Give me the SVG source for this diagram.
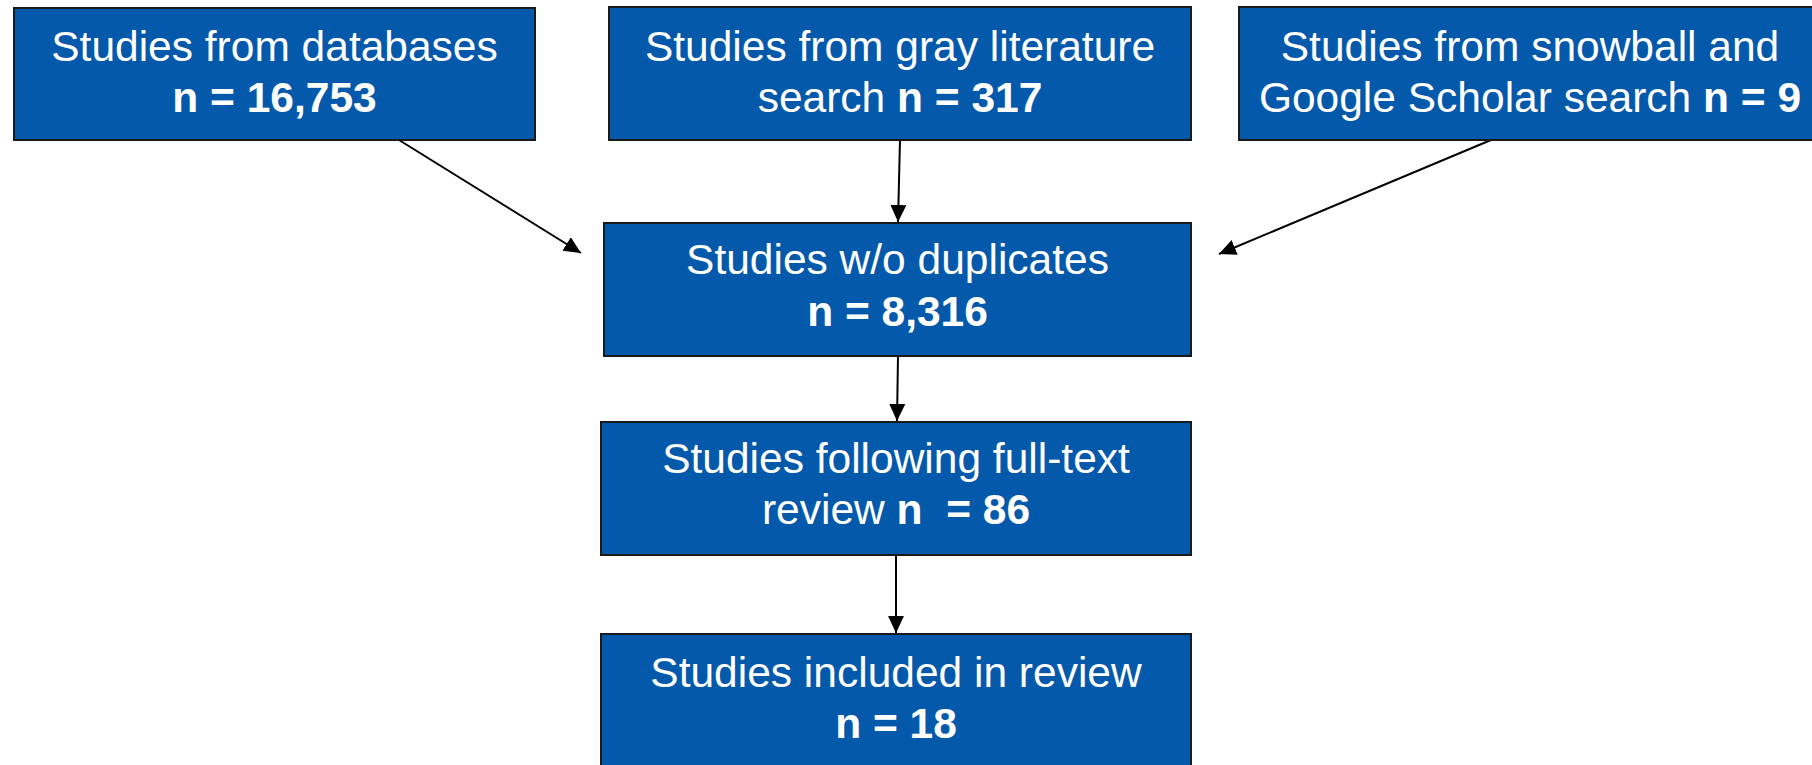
<svg xmlns="http://www.w3.org/2000/svg" width="1812" height="765" viewBox="0 0 1812 765">
<style>
.box{fill:#0559AB;stroke:#1a1a1a;stroke-width:2}
.t{font-family:"Liberation Sans",Arial,sans-serif;font-size:42.5px;fill:#ffffff;text-anchor:middle;white-space:pre}
.b{font-weight:bold}
.c{stroke:#000000;stroke-width:2;fill:none;marker-end:url(#ah)}
</style>
<defs>
<marker id="ah" markerUnits="userSpaceOnUse" markerWidth="18" markerHeight="18" viewBox="0 0 18 18" refX="17" refY="8" orient="auto">
<path d="M0,0 L17,8 L0,16 z" fill="#000000"/>
</marker>
</defs>
<rect width="1812" height="765" fill="#ffffff"/>
<g id="connectors">
<line class="c" x1="399" y1="140" x2="581" y2="253"/>
<line class="c" x1="900" y1="140" x2="898" y2="222"/>
<line class="c" x1="1491" y1="140" x2="1219" y2="254"/>
<line class="c" x1="898" y1="356" x2="897" y2="421"/>
<line class="c" x1="896" y1="555" x2="896" y2="633"/>
</g>
<g id="databases">
<rect class="box" x="14" y="8" width="521" height="132"/>
<text class="t" x="274.5" y="61">Studies from databases</text>
<text class="t b" x="274.5" y="112">n = 16,753</text>
</g>
<g id="gray">
<rect class="box" x="609" y="7" width="582" height="133"/>
<text class="t" x="900" y="61">Studies from gray literature</text>
<text class="t" x="900" y="112">search <tspan class="b">n = 317</tspan></text>
</g>
<g id="snowball">
<rect class="box" x="1239" y="7" width="582" height="133"/>
<text class="t" x="1530" y="61">Studies from snowball and</text>
<text class="t" x="1530" y="112">Google Scholar search <tspan class="b">n = 9</tspan></text>
</g>
<g id="nodup">
<rect class="box" x="604" y="223" width="587" height="133"/>
<text class="t" x="897.5" y="274">Studies w/o duplicates</text>
<text class="t b" x="897.5" y="326">n = 8,316</text>
</g>
<g id="fulltext">
<rect class="box" x="601" y="422" width="590" height="133"/>
<text class="t" x="896" y="473">Studies following full-text</text>
<text class="t" x="896" y="524">review <tspan class="b">n  = 86</tspan></text>
</g>
<g id="included">
<rect class="box" x="601" y="634" width="590" height="133"/>
<text class="t" x="896" y="687">Studies included in review</text>
<text class="t b" x="896" y="738">n = 18</text>
</g>
</svg>
